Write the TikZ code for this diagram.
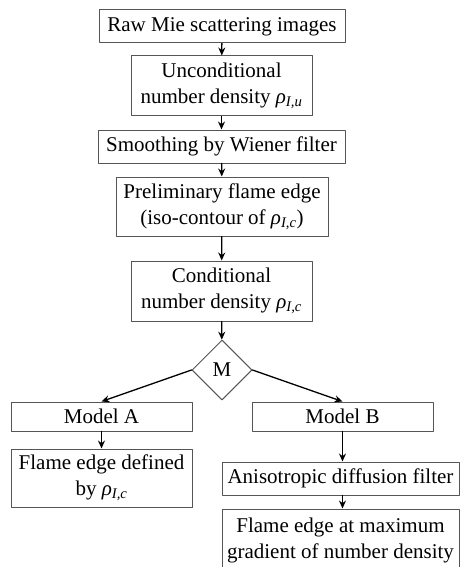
\documentclass[tikz,border=0pt]{standalone}
\usepackage{fontspec}
\setmainfont{Liberation Serif}
\usepackage{tikz}
\usetikzlibrary{arrows.meta,shapes.geometric}
\definecolor{boxgray}{RGB}{85,85,85}
\newcommand{\rhosub}[1]{\textit{ρ}\textsubscript{\textit{#1}}}
\tikzset{
  procbox/.style={draw=boxgray,line width=1pt,inner sep=0pt,align=center,minimum height=33pt,font=\fontsize{21}{26}\selectfont},
  decbox/.style={draw=boxgray,line width=1pt,diamond,aspect=1,inner sep=0pt,minimum size=60pt,font=\fontsize{21}{26}\selectfont},
  flow/.style={-{Stealth[length=8pt,width=7pt]},line width=1.3pt,black}
}
\begin{document}
\begin{tikzpicture}[line cap=round,line join=round,x=1pt,y=-1pt]
    \useasboundingbox (0,0) rectangle (460,567);
    \node[procbox,minimum width=246pt] (raw) at (222,26.5) {Raw Mie scattering images};
    \node[procbox,minimum width=181pt,minimum height=60pt] (uncond) at (221.5,86) {Unconditional\\number density \rhosub{I,u}};
    \node[procbox,minimum width=247pt] (smooth) at (221.5,146.5) {Smoothing by Wiener filter};
    \node[procbox,minimum width=212pt,minimum height=59pt] (prelim) at (222,206.5) {Preliminary flame edge\\(iso-contour of \rhosub{I,c})};
    \node[procbox,minimum width=181pt,minimum height=60pt] (cond) at (221.5,291) {Conditional\\number density \rhosub{I,c}};
    \node[decbox] (model) at (222,370) {M};
    \node[procbox,minimum width=181pt,minimum height=29pt] (modA) at (101.5,416.5) {Model A};
    \node[procbox,minimum width=181pt,minimum height=29pt] (modB) at (342.5,416.5) {Model B};
    \node[procbox,minimum width=181pt,minimum height=58pt] (edgeA) at (101.5,478) {Flame edge defined\\by \rhosub{I,c}};
    \node[procbox,minimum width=237pt] (aniso) at (340.5,478.5) {Anisotropic diffusion filter};
    \node[procbox,minimum width=237pt,minimum height=62pt] (edgeB) at (340.5,540) {Flame edge at maximum\\gradient of number density};
    \draw[flow] (raw) -- (uncond);
    \draw[flow] (uncond) -- (smooth);
    \draw[flow] (smooth) -- (prelim);
    \draw[flow] (prelim) -- (cond);
    \draw[flow] (cond) -- (model);
    \draw[flow] (model.west) -- (modA.north);
    \draw[flow] (model.east) -- (modB.north);
    \draw[flow] (modA) -- (edgeA);
    \draw[flow] (modB.south) -- (modB.south |- aniso.north);
    \draw[flow] (modB.south |- aniso.south) -- (modB.south |- edgeB.north);
\end{tikzpicture}
\end{document}
